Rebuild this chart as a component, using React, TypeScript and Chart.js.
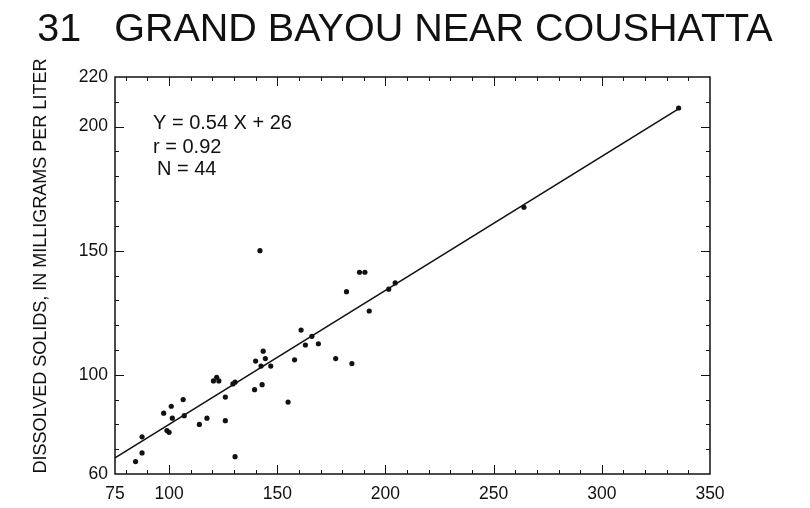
import React, { useEffect, useRef } from "react";
import { Chart, registerables } from "chart.js";

Chart.register(...registerables);

// Station and axis text
const TITLE = "31   GRAND BAYOU NEAR COUSHATTA";
const Y_TITLE = "DISSOLVED SOLIDS, IN MILLIGRAMS PER LITER";

// Paired samples: specific conductance (x) and dissolved solids (y)
const conductance = [
  142, 182, 161, 166, 163, 169, 143.5, 140, 144.5, 158, 177, 184.5, 142.5, 147,
  139.5, 143, 155, 120.5, 122, 123, 129.5, 130.5, 126, 126, 130.5, 117.5, 114,
  106.5, 107, 101, 101.5, 97.5, 99, 100, 87.5, 87.5, 84.5, 188, 190.5, 201.5,
  204.5, 192.5, 264, 335.5,
];
const dissolvedSolids = [
  150, 133.5, 118, 115.5, 112, 112.5, 109.5, 105.5, 106.5, 106, 106.5, 104.5,
  103.5, 103.5, 94, 96, 89, 97.5, 99, 97.5, 96.3, 97, 91, 81.5, 67, 82.5, 80,
  90, 83.5, 87.3, 82.5, 84.5, 77.5, 76.8, 75, 68.5, 65, 141.3, 141.3, 134.5,
  137, 125.7, 167.5, 207.5,
];

// Fitted relation
const SLOPE = 0.54;
const INTERCEPT = 26;
const R_VALUE = 0.92;
const FIT_X_RANGE = [75, 336];

// Axis ranges and labelled ticks
const X_RANGE = [75, 350];
const Y_RANGE = [60, 220];
const X_TICKS = [75, 100, 150, 200, 250, 300, 350];
const Y_TICKS = [60, 100, 150, 200, 220];
const MINOR_STEP = 10;
const MAJOR_STEP = 50;

const FONT = "'Liberation Sans', Arial, Helvetica, sans-serif";

function stepsBetween(min: number, max: number, step: number): number[] {
  const out: number[] = [];
  for (let v = Math.ceil(min / step) * step; v <= max; v += step) {
    if (v > min && v < max) out.push(v);
  }
  return out;
}

// Inward tick marks on all four sides, the frame, the titles and the fit summary
const framePlugin = {
  id: "frameAndNotes",
  afterDatasetsDraw(chart: any) {
    const { ctx, chartArea: a, scales, width } = chart;
    const xs = scales.x;
    const ys = scales.y;
    ctx.save();
    ctx.strokeStyle = "#111";
    ctx.lineWidth = 1;
    ctx.beginPath();
    stepsBetween(X_RANGE[0], X_RANGE[1], MINOR_STEP).forEach((v) => {
      const px = Math.round(xs.getPixelForValue(v)) + 0.5;
      const len = v % MAJOR_STEP === 0 ? 9 : 4;
      ctx.moveTo(px, a.bottom);
      ctx.lineTo(px, a.bottom - len);
      ctx.moveTo(px, a.top);
      ctx.lineTo(px, a.top + len);
    });
    stepsBetween(Y_RANGE[0], Y_RANGE[1], MINOR_STEP).forEach((v) => {
      const py = Math.round(ys.getPixelForValue(v)) + 0.5;
      const len = v % MAJOR_STEP === 0 ? 9 : 4;
      ctx.moveTo(a.left, py);
      ctx.lineTo(a.left + len, py);
      ctx.moveTo(a.right, py);
      ctx.lineTo(a.right - len, py);
    });
    ctx.stroke();

    ctx.lineWidth = 1.5;
    ctx.strokeRect(a.left, a.top, a.right - a.left, a.bottom - a.top);

    ctx.fillStyle = "#111";
    ctx.textBaseline = "middle";

    // chart title, centred on the page
    ctx.textAlign = "center";
    ctx.font = `39.5px ${FONT}`;
    ctx.fillText(TITLE, width / 2, 30);

    // fit summary
    ctx.textAlign = "left";
    ctx.font = `20px ${FONT}`;
    const notes = [
      { text: `Y = ${SLOPE} X + ${INTERCEPT}`, dx: 38, dy: 46 },
      { text: `r = ${R_VALUE}`, dx: 38, dy: 70 },
      { text: `N = ${conductance.length}`, dx: 42, dy: 92 },
    ];
    notes.forEach((n) => ctx.fillText(n.text, a.left + n.dx, a.top + n.dy));

    // vertical axis title
    ctx.font = `18px ${FONT}`;
    ctx.textAlign = "center";
    ctx.translate(41, 266);
    ctx.rotate(-Math.PI / 2);
    ctx.fillText(Y_TITLE, 0, 0);
    ctx.restore();
  },
};

export default function App() {
  const canvasRef = useRef<HTMLCanvasElement | null>(null);

  useEffect(() => {
    const canvas = canvasRef.current;
    if (!canvas) return;

    const points = conductance.map((x, i) => ({ x, y: dissolvedSolids[i] }));
    const fitLine = FIT_X_RANGE.map((x) => ({ x, y: SLOPE * x + INTERCEPT }));

    const chart = new Chart(canvas, {
      type: "scatter",
      data: {
        datasets: [
          {
            data: fitLine,
            showLine: true,
            borderColor: "#111",
            borderWidth: 1.6,
            pointRadius: 0,
            order: 2,
          },
          {
            data: points,
            pointRadius: 2.6,
            pointBackgroundColor: "#111",
            pointBorderColor: "#111",
            pointBorderWidth: 0,
            order: 1,
          },
        ],
      },
      options: {
        responsive: false,
        animation: false,
        devicePixelRatio: 1,
        layout: { padding: { left: 0, right: 100, top: 77, bottom: 0 } },
        plugins: {
          legend: { display: false },
          tooltip: { enabled: false },
          title: { display: false },
        },
        scales: {
          x: {
            type: "linear",
            min: X_RANGE[0],
            max: X_RANGE[1],
            grid: { display: false, drawTicks: false },
            border: { display: false },
            afterBuildTicks: (s: any) => {
              s.ticks = X_TICKS.map((value) => ({ value }));
            },
            afterFit: (s: any) => {
              s.height = 34;
            },
            ticks: {
              color: "#111",
              padding: 10,
              maxRotation: 0,
              autoSkip: false,
              font: { family: FONT, size: 17.5 },
            },
          },
          y: {
            type: "linear",
            min: Y_RANGE[0],
            max: Y_RANGE[1],
            grid: { display: false, drawTicks: false },
            border: { display: false },
            afterBuildTicks: (s: any) => {
              s.ticks = Y_TICKS.map((value) => ({ value }));
            },
            afterFit: (s: any) => {
              s.width = 115;
            },
            ticks: {
              color: "#111",
              padding: 7,
              autoSkip: false,
              font: { family: FONT, size: 17.5 },
            },
          },
        },
      },
      plugins: [framePlugin],
    });

    return () => chart.destroy();
  }, []);

  return (
    <div style={{ position: "fixed", left: 0, top: 0, width: 810, height: 508, background: "#fff" }}>
      <canvas ref={canvasRef} width={810} height={508} />
    </div>
  );
}
